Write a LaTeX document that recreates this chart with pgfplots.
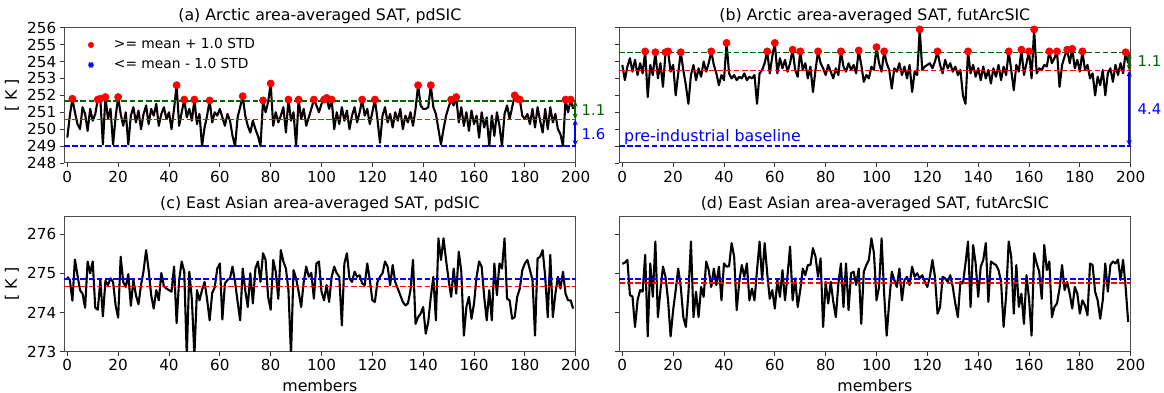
\documentclass[border=0pt]{standalone}
\usepackage{fontspec}
\setmainfont{DejaVu Sans}
\usepackage{pgfplots}
\pgfplotsset{compat=1.18}
\usepackage{pgfplotstable}
\usetikzlibrary{arrows.meta,plotmarks}
\definecolor{mgreen}{RGB}{0,100,0}
\newcommand{\fsT}{\fontsize{7.9bp}{9.5bp}\selectfont}
\newcommand{\fsK}{\fontsize{7.6bp}{9.1bp}\selectfont}
\newcommand{\fsX}{\fontsize{7.9bp}{9.5bp}\selectfont}
\newcommand{\fsL}{\fontsize{6.9bp}{8.3bp}\selectfont}
\newcommand{\fsA}{\fontsize{7.4bp}{8.9bp}\selectfont}

\pgfplotstableread[row sep=\\]{
x y\\
0 249.5\\ 1 250.8\\ 2 251.8\\ 3 251.0\\ 4 250.3\\ 5 250.0\\ 6 251.3\\ 7 250.9\\ 8 249.9\\ 9 251.2\\
10 250.5\\ 11 250.9\\ 12 251.75\\ 13 251.8\\ 14 249.1\\ 15 251.9\\ 16 250.6\\ 17 251.2\\ 18 249.1\\ 19 250.7\\
20 251.9\\ 21 250.9\\ 22 250.2\\ 23 251.0\\ 24 249.1\\ 25 250.8\\ 26 251.3\\ 27 250.4\\ 28 251.1\\ 29 250.0\\
30 250.9\\ 31 251.4\\ 32 250.3\\ 33 251.2\\ 34 250.8\\ 35 251.5\\ 36 250.2\\ 37 250.9\\ 38 251.3\\ 39 250.6\\
40 251.0\\ 41 250.0\\ 42 251.2\\ 43 252.6\\ 44 250.2\\ 45 251.0\\ 46 251.75\\ 47 250.7\\ 48 251.2\\ 49 250.5\\
50 251.75\\ 51 250.3\\ 52 250.9\\ 53 249.0\\ 54 250.1\\ 55 250.8\\ 56 251.7\\ 57 250.4\\ 58 251.0\\ 59 250.8\\
60 251.2\\ 61 250.7\\ 62 250.2\\ 63 250.9\\ 64 250.5\\ 65 249.6\\ 66 249.0\\ 67 250.7\\ 68 251.3\\ 69 251.95\\
70 250.8\\ 71 250.2\\ 72 249.8\\ 73 250.5\\ 74 250.0\\ 75 249.6\\ 76 249.0\\ 77 251.7\\ 78 251.0\\ 79 251.6\\
80 252.7\\ 81 250.2\\ 82 251.0\\ 83 250.4\\ 84 250.8\\ 85 251.3\\ 86 249.8\\ 87 251.75\\ 88 250.5\\ 89 251.0\\
90 249.0\\ 91 251.75\\ 92 250.6\\ 93 251.2\\ 94 250.2\\ 95 250.7\\ 96 251.2\\ 97 251.75\\ 98 251.4\\ 99 251.0\\
100 251.5\\ 101 251.75\\ 102 251.85\\ 103 251.2\\ 104 251.75\\ 105 250.0\\ 106 251.0\\ 107 250.3\\ 108 251.3\\ 109 250.5\\
110 251.1\\ 111 250.0\\ 112 250.8\\ 113 251.3\\ 114 250.4\\ 115 251.0\\ 116 251.75\\ 117 250.8\\ 118 251.2\\ 119 250.3\\
120 251.0\\ 121 251.75\\ 122 250.6\\ 123 249.2\\ 124 250.8\\ 125 251.3\\ 126 250.4\\ 127 250.9\\ 128 250.1\\ 129 251.0\\
130 250.5\\ 131 251.2\\ 132 250.0\\ 133 250.8\\ 134 250.4\\ 135 251.0\\ 136 250.2\\ 137 251.2\\ 138 252.6\\ 139 251.4\\
140 251.2\\ 141 251.2\\ 142 251.3\\ 143 252.6\\ 144 251.3\\ 145 250.9\\ 146 250.0\\ 147 249.1\\ 148 250.0\\ 149 250.8\\
150 251.3\\ 151 251.75\\ 152 251.4\\ 153 251.9\\ 154 250.4\\ 155 251.3\\ 156 250.2\\ 157 251.0\\ 158 249.9\\ 159 251.1\\
160 250.3\\ 161 250.8\\ 162 249.5\\ 163 251.0\\ 164 250.1\\ 165 250.7\\ 166 249.0\\ 167 250.8\\ 168 249.6\\ 169 251.0\\
170 250.2\\ 171 249.0\\ 172 250.9\\ 173 251.4\\ 174 250.6\\ 175 251.3\\ 176 252.0\\ 177 251.8\\ 178 251.75\\ 179 250.8\\
180 250.6\\ 181 250.9\\ 182 250.3\\ 183 251.2\\ 184 250.1\\ 185 251.3\\ 186 250.5\\ 187 249.8\\ 188 251.2\\ 189 250.0\\
190 251.3\\ 191 250.4\\ 192 250.9\\ 193 250.0\\ 194 249.7\\ 195 249.0\\ 196 251.75\\ 197 251.0\\ 198 251.75\\ 199 251.2\\
}\tabA

\pgfplotstableread[row sep=\\]{
x y\\
0 253.8\\ 1 252.9\\ 2 253.7\\ 3 254.2\\ 4 253.4\\ 5 254.1\\ 6 253.2\\ 7 253.9\\ 8 253.3\\ 9 254.6\\
10 251.9\\ 11 253.8\\ 12 253.2\\ 13 254.55\\ 14 253.0\\ 15 253.9\\ 16 252.5\\ 17 254.55\\ 18 254.6\\ 19 253.4\\
20 253.8\\ 21 252.0\\ 22 253.3\\ 23 254.55\\ 24 253.5\\ 25 252.6\\ 26 251.5\\ 27 253.2\\ 28 253.8\\ 29 252.9\\
30 253.6\\ 31 253.1\\ 32 254.0\\ 33 253.4\\ 34 253.9\\ 35 254.6\\ 36 253.8\\ 37 253.3\\ 38 252.6\\ 39 253.2\\
40 252.9\\ 41 255.1\\ 42 253.3\\ 43 253.0\\ 44 253.2\\ 45 252.9\\ 46 253.1\\ 47 253.0\\ 48 253.3\\ 49 252.9\\
50 253.1\\ 51 253.0\\ 52 253.2\\ 53 251.5\\ 54 253.3\\ 55 253.5\\ 56 253.9\\ 57 254.6\\ 58 253.3\\ 59 254.3\\
60 255.1\\ 61 253.3\\ 62 254.2\\ 63 253.6\\ 64 254.1\\ 65 253.4\\ 66 253.9\\ 67 254.7\\ 68 253.5\\ 69 253.1\\
70 254.6\\ 71 253.5\\ 72 253.9\\ 73 253.0\\ 74 253.7\\ 75 252.2\\ 76 253.5\\ 77 254.6\\ 78 253.9\\ 79 253.6\\
80 253.2\\ 81 253.8\\ 82 253.4\\ 83 253.0\\ 84 253.6\\ 85 253.2\\ 86 254.6\\ 87 253.7\\ 88 253.4\\ 89 253.9\\
90 253.5\\ 91 253.8\\ 92 253.3\\ 93 254.65\\ 94 253.8\\ 95 252.8\\ 96 253.2\\ 97 253.0\\ 98 253.7\\ 99 253.5\\
100 254.85\\ 101 253.9\\ 102 253.4\\ 103 254.6\\ 104 253.9\\ 105 253.5\\ 106 252.4\\ 107 253.6\\ 108 253.4\\ 109 253.9\\
110 253.2\\ 111 253.7\\ 112 253.0\\ 113 253.8\\ 114 252.2\\ 115 253.4\\ 116 253.2\\ 117 255.9\\ 118 253.5\\ 119 253.7\\
120 253.8\\ 121 253.9\\ 122 253.6\\ 123 254.0\\ 124 254.6\\ 125 253.8\\ 126 253.3\\ 127 254.1\\ 128 253.6\\ 129 253.9\\
130 253.4\\ 131 253.7\\ 132 253.2\\ 133 253.5\\ 134 252.0\\ 135 251.5\\ 136 254.6\\ 137 253.3\\ 138 253.8\\ 139 253.1\\
140 253.6\\ 141 252.9\\ 142 253.7\\ 143 253.0\\ 144 253.5\\ 145 252.7\\ 146 253.6\\ 147 253.1\\ 148 253.8\\ 149 252.9\\
150 253.7\\ 151 253.2\\ 152 254.6\\ 153 253.5\\ 154 252.3\\ 155 253.8\\ 156 253.4\\ 157 254.7\\ 158 253.2\\ 159 253.9\\
160 254.6\\ 161 253.0\\ 162 255.9\\ 163 253.3\\ 164 253.6\\ 165 253.5\\ 166 253.8\\ 167 253.7\\ 168 254.6\\ 169 253.9\\
170 254.2\\ 171 254.6\\ 172 252.5\\ 173 253.8\\ 174 254.3\\ 175 254.7\\ 176 253.9\\ 177 254.75\\ 178 253.6\\ 179 254.1\\
180 253.4\\ 181 254.6\\ 182 253.5\\ 183 253.8\\ 184 253.0\\ 185 253.3\\ 186 252.0\\ 187 253.1\\ 188 252.6\\ 189 253.5\\
190 252.0\\ 191 253.3\\ 192 253.6\\ 193 252.8\\ 194 253.8\\ 195 253.2\\ 196 253.9\\ 197 253.3\\ 198 254.55\\ 199 253.9\\
}\tabB

\pgfplotstableread[row sep=\\]{
x y\\
0 274.91\\ 1 274.83\\ 2 274.30\\ 3 275.35\\ 4 274.95\\ 5 274.57\\ 6 274.48\\ 7 274.12\\ 8 275.30\\ 9 275.00\\
10 275.30\\ 11 274.12\\ 12 274.07\\ 13 274.83\\ 14 273.90\\ 15 274.81\\ 16 274.70\\ 17 274.87\\ 18 274.78\\ 19 274.18\\
20 273.87\\ 21 275.42\\ 22 274.78\\ 23 274.65\\ 24 274.98\\ 25 274.17\\ 26 274.83\\ 27 274.44\\ 28 274.21\\ 29 274.70\\
30 275.06\\ 31 275.59\\ 32 275.08\\ 33 274.44\\ 34 274.10\\ 35 274.57\\ 36 274.31\\ 37 275.01\\ 38 274.67\\ 39 274.61\\
40 274.57\\ 41 274.53\\ 42 275.17\\ 43 273.73\\ 44 274.83\\ 45 275.30\\ 46 275.04\\ 47 272.90\\ 48 275.04\\ 49 274.33\\
50 272.90\\ 51 274.57\\ 52 274.31\\ 53 274.57\\ 54 274.78\\ 55 274.33\\ 56 273.80\\ 57 274.50\\ 58 274.64\\ 59 275.12\\
60 275.25\\ 61 273.82\\ 62 274.74\\ 63 274.83\\ 64 274.87\\ 65 275.17\\ 66 274.78\\ 67 274.27\\ 68 273.80\\ 69 275.12\\
70 274.57\\ 71 274.14\\ 72 275.00\\ 73 274.23\\ 74 275.12\\ 75 275.30\\ 76 274.78\\ 77 275.51\\ 78 275.34\\ 79 274.40\\
80 274.07\\ 81 275.34\\ 82 275.04\\ 83 274.35\\ 84 275.59\\ 85 275.30\\ 86 275.12\\ 87 274.57\\ 88 272.90\\ 89 275.08\\
90 274.87\\ 91 274.53\\ 92 274.14\\ 93 274.78\\ 94 275.17\\ 95 274.91\\ 96 275.01\\ 97 274.35\\ 98 275.25\\ 99 275.30\\
100 274.53\\ 101 274.31\\ 102 274.70\\ 103 274.27\\ 104 274.91\\ 105 275.17\\ 106 275.00\\ 107 274.91\\ 108 273.67\\ 109 275.25\\
110 275.51\\ 111 274.87\\ 112 274.78\\ 113 275.04\\ 114 274.91\\ 115 274.95\\ 116 274.74\\ 117 274.70\\ 118 275.25\\ 119 274.83\\
120 274.31\\ 121 274.27\\ 122 274.78\\ 123 274.91\\ 124 275.00\\ 125 275.30\\ 126 275.17\\ 127 274.70\\ 128 275.21\\ 129 274.78\\
130 274.61\\ 131 274.44\\ 132 274.27\\ 133 274.18\\ 134 274.23\\ 135 274.57\\ 136 275.34\\ 137 273.71\\ 138 273.88\\ 139 273.97\\
140 274.14\\ 141 273.46\\ 142 273.76\\ 143 274.40\\ 144 274.91\\ 145 273.80\\ 146 275.89\\ 147 275.34\\ 148 275.89\\ 149 275.34\\
150 274.83\\ 151 274.40\\ 152 275.12\\ 153 274.48\\ 154 275.55\\ 155 275.04\\ 156 273.41\\ 157 274.14\\ 158 274.40\\ 159 273.84\\
160 274.23\\ 161 274.91\\ 162 275.30\\ 163 275.17\\ 164 274.40\\ 165 273.80\\ 166 274.57\\ 167 273.80\\ 168 275.25\\ 169 274.44\\
170 275.25\\ 171 275.12\\ 172 275.89\\ 173 274.35\\ 174 274.31\\ 175 273.84\\ 176 273.88\\ 177 274.40\\ 178 274.61\\ 179 275.08\\
180 275.25\\ 181 275.34\\ 182 275.08\\ 183 274.83\\ 184 273.41\\ 185 275.38\\ 186 275.42\\ 187 275.59\\ 188 274.91\\ 189 273.88\\
190 275.47\\ 191 273.88\\ 192 274.48\\ 193 274.91\\ 194 274.61\\ 195 275.04\\ 196 274.48\\ 197 274.31\\ 198 274.31\\ 199 274.10\\
}\tabC

\pgfplotstableread[row sep=\\]{
x y\\
0 275.24\\ 1 275.27\\ 2 275.34\\ 3 274.44\\ 4 274.41\\ 5 273.63\\ 6 274.31\\ 7 274.57\\ 8 274.53\\ 9 275.47\\
10 273.39\\ 11 275.25\\ 12 274.40\\ 13 275.81\\ 14 273.88\\ 15 274.57\\ 16 275.17\\ 17 274.91\\ 18 274.31\\ 19 273.39\\
20 274.06\\ 21 274.57\\ 22 275.12\\ 23 274.65\\ 24 273.88\\ 25 273.63\\ 26 274.48\\ 27 275.81\\ 28 273.88\\ 29 274.53\\
30 273.88\\ 31 274.65\\ 32 274.40\\ 33 275.30\\ 34 275.08\\ 35 274.65\\ 36 275.12\\ 37 274.70\\ 38 275.17\\ 39 274.31\\
40 275.25\\ 41 275.17\\ 42 275.18\\ 43 275.77\\ 44 275.42\\ 45 274.06\\ 46 274.78\\ 47 275.21\\ 48 274.91\\ 49 275.25\\
50 274.31\\ 51 274.61\\ 52 274.31\\ 53 275.08\\ 54 275.81\\ 55 274.83\\ 56 275.77\\ 57 275.00\\ 58 274.35\\ 59 274.57\\
60 274.10\\ 61 274.83\\ 62 274.40\\ 63 275.08\\ 64 274.31\\ 65 274.95\\ 66 275.68\\ 67 274.31\\ 68 274.87\\ 69 274.14\\
70 274.57\\ 71 275.12\\ 72 274.95\\ 73 275.21\\ 74 275.21\\ 75 275.64\\ 76 275.42\\ 77 274.91\\ 78 275.38\\ 79 273.63\\
80 274.78\\ 81 274.23\\ 82 274.78\\ 83 274.27\\ 84 273.88\\ 85 274.74\\ 86 275.25\\ 87 274.14\\ 88 275.25\\ 89 274.06\\
90 275.00\\ 91 275.04\\ 92 274.70\\ 93 275.12\\ 94 273.71\\ 95 275.04\\ 96 275.21\\ 97 275.34\\ 98 275.89\\ 99 275.51\\
100 274.31\\ 101 274.65\\ 102 275.89\\ 103 274.48\\ 104 273.41\\ 105 274.27\\ 106 275.04\\ 107 274.83\\ 108 274.65\\ 109 275.12\\
110 274.31\\ 111 274.83\\ 112 274.91\\ 113 274.70\\ 114 275.17\\ 115 274.91\\ 116 275.00\\ 117 274.87\\ 118 274.95\\ 119 274.78\\
120 274.65\\ 121 274.91\\ 122 275.34\\ 123 274.91\\ 124 273.97\\ 125 274.14\\ 126 274.91\\ 127 274.87\\ 128 274.78\\ 129 274.95\\
130 274.65\\ 131 274.23\\ 132 273.88\\ 133 274.78\\ 134 274.74\\ 135 275.25\\ 136 275.81\\ 137 274.14\\ 138 275.72\\ 139 275.25\\
140 274.40\\ 141 275.17\\ 142 275.34\\ 143 275.77\\ 144 274.27\\ 145 275.30\\ 146 275.25\\ 147 275.21\\ 148 275.08\\ 149 274.78\\
150 273.63\\ 151 274.44\\ 152 275.81\\ 153 275.42\\ 154 273.97\\ 155 275.21\\ 156 274.14\\ 157 274.48\\ 158 273.71\\ 159 274.95\\
160 274.35\\ 161 273.41\\ 162 275.51\\ 163 275.25\\ 164 275.04\\ 165 274.35\\ 166 275.72\\ 167 275.08\\ 168 275.30\\ 169 273.88\\
170 274.14\\ 171 274.23\\ 172 274.61\\ 173 275.21\\ 174 274.57\\ 175 274.78\\ 176 274.48\\ 177 274.10\\ 178 274.65\\ 179 274.48\\
180 273.97\\ 181 274.31\\ 182 274.18\\ 183 273.93\\ 184 275.25\\ 185 275.21\\ 186 274.53\\ 187 274.31\\ 188 273.84\\ 189 274.31\\
190 275.25\\ 191 274.53\\ 192 275.21\\ 193 275.30\\ 194 275.25\\ 195 275.35\\ 196 274.83\\ 197 275.34\\ 198 274.65\\ 199 273.76\\
}\tabD

\tikzset{
  darr/.style={{Stealth[length=3bp,width=2.6bp]}-{Stealth[length=3bp,width=2.6bp]}, line width=0.75bp},
}
\pgfplotsset{
  every axis title shift=0pt,
  panel/.style={
    scale only axis, width=255.85bp, height=67.65bp,
    xmin=-1.3, xmax=200,
    xtick={0,20,...,200},
    xtick pos=bottom, ytick pos=left,
    tick align=outside, major tick length=2.2bp,
    tick style={black!80, line width=0.45bp},
    axis line style={black!70, line width=0.5bp},
    ticklabel style={font=\fsK, inner sep=1.5bp},
    /pgf/number format/assume math mode=true,
    title style={font=\fsT, at={(0.5,1)}, anchor=base, yshift=3.8bp},
    ylabel style={font=\fsX, at={(axis description cs:-0.1016,0.5)}, anchor=center},
    xlabel style={font=\fsX, at={(axis description cs:0.5,-0.251)}, anchor=center},
  },
  dline/.style={line width=0.8bp, dash pattern=on 2.8bp off 1.3bp, forget plot},
  dataline/.style={black, line width=1.05bp, line join=round, forget plot},
  hot/.style={only marks, mark=*, mark size=1.75bp, color=red, forget plot},
}

\begin{document}
\begin{tikzpicture}
\useasboundingbox (0,0) rectangle (582bp,196.5bp);

% (a)
\begin{axis}[panel, at={(32bp,115bp)}, anchor=south west,
  ymin=248, ymax=256, ytick={248,249,...,256},
  title={(a) Arctic area-averaged SAT, pdSIC}, ylabel={[ K ]}, clip=false,
  legend style={at={(axis description cs:0.046,0.93)}, anchor=north west, draw=none, fill=none,
    font=\fsL, row sep=2.6bp, inner sep=0pt, nodes={inner sep=0.5bp, text height=5bp, text depth=1.4bp}},
  legend cell align=left,
  legend image code/.code={\path[draw=none,fill=none] (-1bp,0bp) -- (11bp,0bp); \draw[#1] plot coordinates {(0bp,0bp)};}]
\addplot[dataline] table {\tabA};
\addplot[dline, mgreen] coordinates {(-1.3,251.68) (200,251.68)};
\addplot[dline, red] coordinates {(-1.3,250.58) (200,250.58)};
\addplot[dline, blue] coordinates {(-1.3,249.0) (200,249.0)};
\addplot[hot, restrict y to domain=251.68:260] table {\tabA};
\addlegendimage{only marks, mark=*, red, mark size=1.3bp}
\addlegendentry{>= mean + 1.0 STD}
\addlegendimage{only marks, mark=10-pointed star, blue, mark size=1.6bp}
\addlegendentry{<= mean - 1.0 STD}
\draw[darr, mgreen] (axis cs:199.8,250.58) -- (axis cs:199.8,251.68);
\draw[darr, blue] (axis cs:199.8,249.0) -- (axis cs:199.8,250.58);
\node[anchor=west, text=mgreen, font=\fsA, inner sep=0pt, xshift=2.8bp] at (axis cs:200,251.13) {1.1};
\node[anchor=west, text=blue, font=\fsA, inner sep=0pt, xshift=2.8bp] at (axis cs:200,249.70) {1.6};
\end{axis}

% (b)
\begin{axis}[panel, at={(309.5bp,115bp)}, anchor=south west,
  ymin=248, ymax=256, ytick={248,249,...,256}, yticklabels={},
  title={(b) Arctic area-averaged SAT, futArcSIC}, clip=false]
\addplot[dataline] table {\tabB};
\addplot[dline, mgreen] coordinates {(-1.3,254.54) (200,254.54)};
\addplot[dline, red] coordinates {(-1.3,253.46) (200,253.46)};
\addplot[dline, blue] coordinates {(-1.3,249.0) (200,249.0)};
\addplot[hot, restrict y to domain=254.54:260] table {\tabB};
\draw[darr, mgreen] (axis cs:199.4,253.46) -- (axis cs:199.4,254.54);
\draw[darr, blue] (axis cs:199.4,249.0) -- (axis cs:199.4,253.46);
\node[anchor=west, text=mgreen, font=\fsA, inner sep=0pt, xshift=3.3bp] at (axis cs:200,254.0) {1.1};
\node[anchor=west, text=blue, font=\fsA, inner sep=0pt, xshift=3.3bp] at (axis cs:200,251.2) {4.4};
\node[anchor=base west, text=blue, font=\fsT, inner sep=0pt] at (axis cs:0.6,249.25) {pre-industrial baseline};
\end{axis}

% (c)
\begin{axis}[panel, at={(32bp,20.65bp)}, anchor=south west,
  ymin=273, ymax=276.45, ytick={273,274,275,276},
  title={(c) East Asian area-averaged SAT, pdSIC}, ylabel={[ K ]}, xlabel={members}]
\addplot[dataline] table {\tabC};
\addplot[dline, blue] coordinates {(-1.3,274.86) (200,274.86)};
\addplot[dline, red] coordinates {(-1.3,274.66) (200,274.66)};
\end{axis}

% (d)
\begin{axis}[panel, at={(309.5bp,20.65bp)}, anchor=south west,
  ymin=273, ymax=276.45, ytick={273,274,275,276}, yticklabels={},
  title={(d) East Asian area-averaged SAT, futArcSIC}, xlabel={members}]
\addplot[dataline] table {\tabD};
\addplot[dline, blue] coordinates {(-1.3,274.86) (200,274.86)};
\addplot[dline, red] coordinates {(-1.3,274.75) (200,274.75)};
\end{axis}
\end{tikzpicture}
\end{document}
